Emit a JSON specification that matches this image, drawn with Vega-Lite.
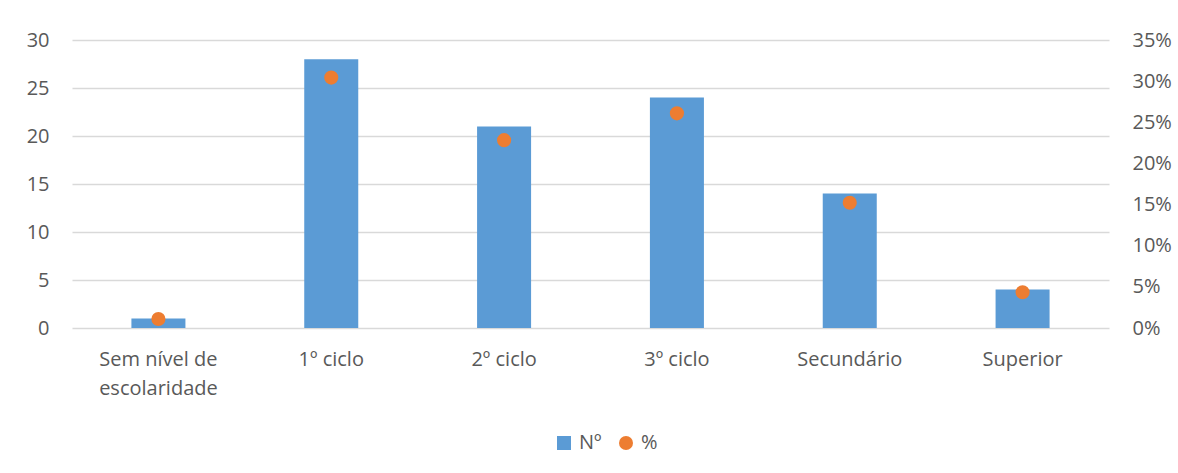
{
  "$schema": "https://vega.github.io/schema/vega-lite/v6.json",
  "width": 1037,
  "height": 288,
  "autosize": "none",
  "padding": {"left": 72, "top": 40, "right": 69, "bottom": 145},
  "background": "white",
  "config": {
    "view": {"stroke": null},
    "font": "Open Sans",
    "axis": {"labelFont": "Open Sans", "labelFontSize": 20, "labelColor": "#595959", "ticks": false, "domain": false, "title": null},
    "legend": {"labelFont": "Open Sans", "labelFontSize": 20, "labelColor": "#595959"}
  },
  "data": {
    "values": [
      {"nivel": "Sem nível de escolaridade", "n": 1, "pct": 0.0109},
      {"nivel": "1º ciclo", "n": 28, "pct": 0.3043},
      {"nivel": "2º ciclo", "n": 21, "pct": 0.2283},
      {"nivel": "3º ciclo", "n": 24, "pct": 0.2609},
      {"nivel": "Secundário", "n": 14, "pct": 0.1522},
      {"nivel": "Superior", "n": 4, "pct": 0.0435}
    ]
  },
  "encoding": {
    "x": {
      "field": "nivel",
      "type": "nominal",
      "sort": null,
      "scale": {"paddingInner": 0.6875, "paddingOuter": 0.34375},
      "axis": {
        "labelAngle": 0,
        "labelPadding": 21,
        "labelLineHeight": 29,
        "labelBaseline": "top",
        "grid": false,
        "labelExpr": "datum.value == 'Sem nível de escolaridade' ? ['Sem nível de', 'escolaridade'] : datum.value"
      }
    }
  },
  "layer": [
    {
      "mark": {"type": "bar"},
      "encoding": {
        "y": {
          "field": "n",
          "type": "quantitative",
          "scale": {"domain": [0, 30]},
          "axis": {"values": [0, 5, 10, 15, 20, 25, 30], "grid": true, "gridColor": "#D9D9D9", "gridWidth": 1.3, "labelPadding": 23}
        },
        "color": {
          "datum": "Nº",
          "scale": {"domain": ["Nº", "%"], "range": ["#5B9BD5", "#ED7D31"]},
          "legend": {
            "orient": "none",
            "direction": "horizontal",
            "title": null,
            "legendX": 482,
            "legendY": 393,
            "symbolSize": 196,
            "labelOffset": 5,
            "columnPadding": 14
          }
        }
      }
    },
    {
      "mark": {"type": "point", "filled": true, "size": 200, "opacity": 1},
      "encoding": {
        "y": {
          "field": "pct",
          "type": "quantitative",
          "scale": {"domain": [0, 0.35]},
          "axis": {"orient": "right", "values": [0, 0.05, 0.1, 0.15, 0.2, 0.25, 0.3, 0.35], "format": ".0%", "grid": false, "labelPadding": 23}
        },
        "color": {"datum": "%"},
        "shape": {
          "datum": "%",
          "scale": {"domain": ["Nº", "%"], "range": ["square", "circle"]}
        }
      }
    }
  ],
  "resolve": {"scale": {"y": "independent"}}
}
